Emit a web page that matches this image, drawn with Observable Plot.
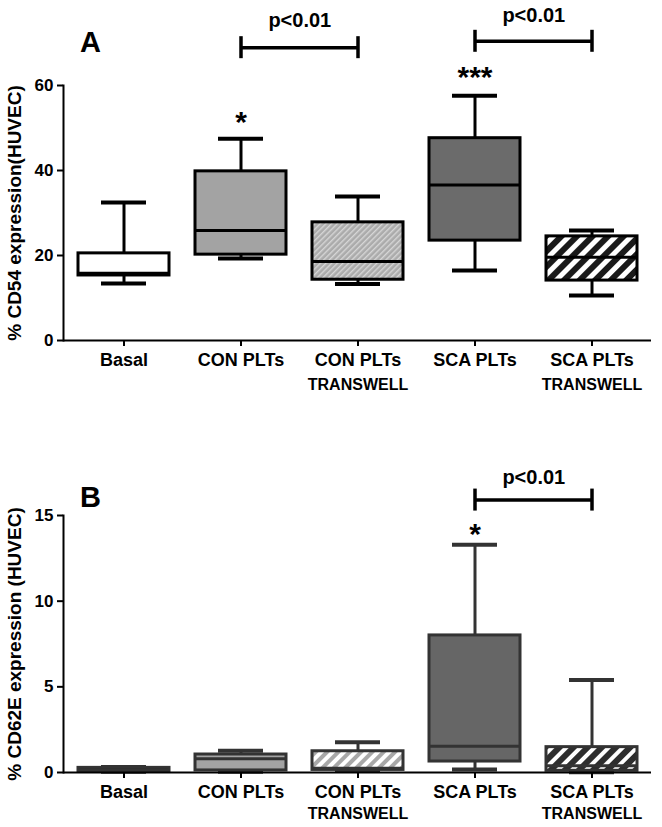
<!DOCTYPE html>
<html><head><meta charset="utf-8">
<script src="https://cdn.jsdelivr.net/npm/d3@7"></script>
<script src="https://cdn.jsdelivr.net/npm/@observablehq/plot@0.6"></script>
<style>
html,body{margin:0;padding:0;background:#fff;}
#chart{width:662px;}
#chart svg{display:block;}
</style></head><body><div id="chart"></div>
<script>
// ---- data ----
const categories = ["Basal", "CON PLTs", "CON PLTs TRANSWELL", "SCA PLTs", "SCA PLTs TRANSWELL"];
const tickLine1 = ["Basal", "CON PLTs", "CON PLTs", "SCA PLTs", "SCA PLTs"];
const tickLine2 = ["", "", "TRANSWELL", "", "TRANSWELL"];

// Panel A: % CD54 expression (HUVEC)
const cd54Min    = [13.4, 19.3, 13.3, 16.5, 10.6];
const cd54Q1     = [15.3, 20.2, 14.3, 23.5, 14.1];
const cd54Median = [15.8, 25.9, 18.6, 36.6, 19.6];
const cd54Q3     = [20.5, 39.8, 27.8, 47.6, 24.5];
const cd54Max    = [32.5, 47.5, 33.9, 57.6, 25.9];
const cd54Ticks  = [0, 20, 40, 60];
const cd54Title  = "% CD54 expression(HUVEC)";
const cd54Stars  = [{category: "CON PLTs", level: 51.3, text: "*"}, {category: "SCA PLTs", level: 61.9, text: "***"}];
const cd54Brackets = [
  {from: "CON PLTs", to: "CON PLTs TRANSWELL", level: 68.9, labelLevel: 75.3, label: "p<0.01"},
  {from: "SCA PLTs", to: "SCA PLTs TRANSWELL", level: 70.4, labelLevel: 76.5, label: "p<0.01"}
];

// Panel B: % CD62E expression (HUVEC)
const cd62eMin    = [0.05, 0.05, 0.10, 0.17, 0.02];
const cd62eQ1     = [0.05, 0.12, 0.15, 0.64, 0.10];
const cd62eMedian = [0.15, 0.80, 0.25, 1.53, 0.40];
const cd62eQ3     = [0.27, 1.05, 1.24, 8.00, 1.48];
const cd62eMax    = [0.32, 1.27, 1.77, 13.3, 5.40];
const cd62eTicks  = [0, 5, 10, 15];
const cd62eTitle  = "% CD62E expression (HUVEC)";
const cd62eStars  = [{category: "SCA PLTs", level: 13.9, text: "*"}];
const cd62eBrackets = [
  {from: "SCA PLTs", to: "SCA PLTs TRANSWELL", level: 15.9, labelLevel: 17.2, label: "p<0.01"}
];

// ---- drawing ----
const SANS = "'Liberation Sans', Arial, Helvetica, sans-serif";

function hatch(defs, id, bg, fg, period, stripe) {
  const p = defs.append("pattern").attr("id", id)
    .attr("patternUnits", "userSpaceOnUse")
    .attr("width", period).attr("height", period)
    .attr("patternTransform", "rotate(45)");
  p.append("rect").attr("width", period).attr("height", period).attr("fill", bg);
  p.append("rect").attr("width", stripe).attr("height", period).attr("fill", fg);
}

function boxPanel(cfg) {
  const rows = categories.map((c, i) => ({
    c, i, min: cfg.min[i], q1: cfg.q1[i], median: cfg.median[i], q3: cfg.q3[i], max: cfg.max[i]
  }));
  const y0 = cfg.ticks[0];
  const ink = cfg.ink;
  const half = (662 - 63 - 11) / categories.length / 2;
  const svg = Plot.plot({
    width: 662, height: cfg.height,
    marginLeft: 63, marginRight: 11, marginTop: cfg.marginTop, marginBottom: cfg.marginBottom,
    style: {fontFamily: SANS, color: "#000", background: "#fff", overflow: "visible"},
    x: {type: "band", domain: categories, padding: 0},
    y: {domain: [y0, cfg.ticks[cfg.ticks.length - 1]]},
    color: {type: "ordinal", domain: categories, range: cfg.fills},
    marks: [
      Plot.ruleX(rows, {x: "c", y1: "min", y2: "max", stroke: ink, strokeWidth: 3}),
      Plot.tickY(rows, {x: "c", y: "max", stroke: ink, strokeWidth: 4, inset: 36}),
      Plot.tickY(rows, {x: "c", y: "min", stroke: ink, strokeWidth: 4, inset: 36}),
      Plot.barY(rows, {x: "c", y1: "q1", y2: "q3", fill: "c", stroke: ink, strokeWidth: 3, insetLeft: 13, insetRight: 13}),
      Plot.tickY(rows, {x: "c", y: "median", stroke: ink, strokeWidth: 3, inset: 14}),
      Plot.frame({anchor: "left", stroke: "#000", strokeWidth: 2}),
      Plot.ruleY([y0], {stroke: "#000", strokeWidth: 2}),
      Plot.axisY({ticks: cfg.ticks, tickSize: 6, tickPadding: 4, strokeWidth: 2, fontSize: 17, fontWeight: "bold", label: null, tickFormat: d => String(d)}),
      Plot.axisX({tickSize: 6, tickPadding: 7, strokeWidth: 2, fontSize: 18, fontWeight: "bold", label: null,
                  tickFormat: c => tickLine1[categories.indexOf(c)]}),
      Plot.text(rows.filter(r => tickLine2[r.i]), {x: "c", y: () => y0, text: r => tickLine2[r.i], dy: cfg.line2Dy, fontSize: 16, fontWeight: "bold"}),
      Plot.text([cfg.title], {frameAnchor: "left", text: d => d, rotate: -90, dx: -49, textAnchor: "middle", lineAnchor: "middle",
                              fontSize: 19, fontWeight: "bold"}),
      Plot.text([cfg.panelLabel], {frameAnchor: "top-left", text: d => d, dx: 27, dy: cfg.panelDy, textAnchor: "middle", lineAnchor: "middle",
                                   fontSize: 29, fontWeight: "bold"}),
      Plot.link(cfg.brackets, {x1: "from", x2: "to", y1: "level", y2: "level", stroke: "#000", strokeWidth: 3.5}),
      Plot.ruleX(cfg.brackets, {x: "from", y1: "level", y2: "level", insetTop: -11, insetBottom: -11, stroke: "#000", strokeWidth: 3.5}),
      Plot.ruleX(cfg.brackets, {x: "to", y1: "level", y2: "level", insetTop: -11, insetBottom: -11, stroke: "#000", strokeWidth: 3.5}),
      Plot.text(cfg.brackets, {x: "from", y: "labelLevel", text: "label", dx: half, fontSize: 20, fontWeight: "bold"}),
      Plot.text(cfg.stars, {x: "category", y: "level", text: "text", fontSize: 30, fontWeight: "bold"})
    ]
  });
  const defs = d3.select(svg).insert("defs", ":first-child");
  cfg.patterns.forEach(p => hatch(defs, ...p));
  return svg;
}

const svgA = boxPanel({
  min: cd54Min, q1: cd54Q1, median: cd54Median, q3: cd54Q3, max: cd54Max,
  ticks: cd54Ticks, title: cd54Title, panelLabel: "A", stars: cd54Stars, brackets: cd54Brackets,
  height: 420, marginTop: 85, marginBottom: 80, panelDy: -43, line2Dy: 44, ink: "#000",
  fills: ["#ffffff", "#a3a3a3", "url(#hatchA1)", "#6b6b6b", "url(#hatchA2)"],
  patterns: [["hatchA1", "#ababab", "#d6d6d6", 4, 1.4], ["hatchA2", "#ffffff", "#1a1a1a", 11, 6]]
});
const svgB = boxPanel({
  min: cd62eMin, q1: cd62eQ1, median: cd62eMedian, q3: cd62eQ3, max: cd62eMax,
  ticks: cd62eTicks, title: cd62eTitle, panelLabel: "B", stars: cd62eStars, brackets: cd62eBrackets,
  height: 407, marginTop: 95, marginBottom: 55, panelDy: -18, line2Dy: 41, ink: "#333",
  fills: ["#111111", "#a3a3a3", "url(#hatchB1)", "#666666", "url(#hatchB2)"],
  patterns: [["hatchB1", "#ffffff", "#a8a8a8", 8, 4], ["hatchB2", "#2e2e2e", "#ffffff", 10, 4]]
});
document.getElementById("chart").append(svgA, svgB);
</script>
</body></html>
